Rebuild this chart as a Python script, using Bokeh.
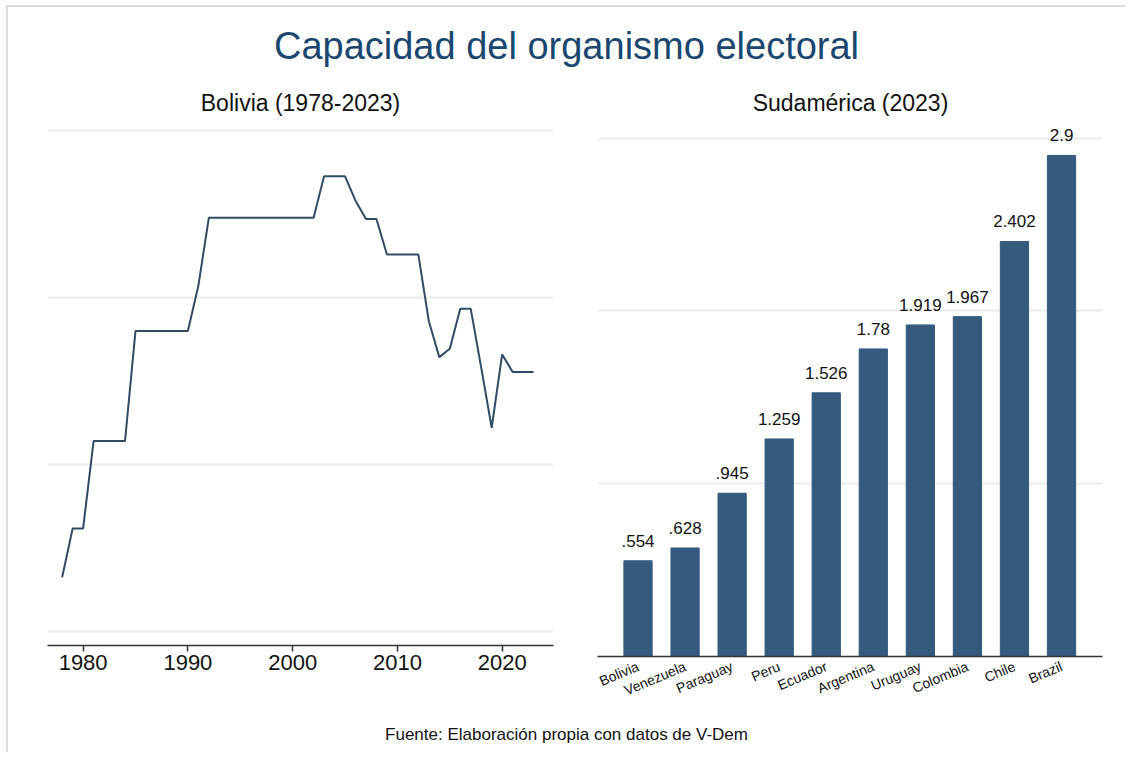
from bokeh.plotting import figure
from bokeh.layouts import column, row
from bokeh.models import Range1d, FixedTicker, Label, ColumnDataSource
from bokeh.embed import file_html
from bokeh.resources import INLINE
from bokeh.core.properties import value

# ---------------- data ----------------
title_text = "Capacidad del organismo electoral"
left_title = "Bolivia (1978-2023)"
right_title = "Sudamérica (2023)"
source_text = "Fuente: Elaboración propia con datos de V-Dem"

years = list(range(1978, 2024))
bolivia = [
    -0.675, -0.383, -0.383, 0.14, 0.14, 0.14, 0.14,          # 1978-1984
    0.80, 0.80, 0.80, 0.80, 0.80, 0.80,                      # 1985-1990
    1.07,                                                    # 1991
    1.477, 1.477, 1.477, 1.477, 1.477, 1.477, 1.477, 1.477,  # 1992-1999
    1.477, 1.477, 1.477,                                     # 2000-2002
    1.726, 1.726, 1.726,                                     # 2003-2005
    1.58, 1.47, 1.47,                                        # 2006-2008
    1.257, 1.257, 1.257, 1.257,                              # 2009-2012
    0.858, 0.643, 0.693, 0.932, 0.932,                       # 2013-2017
    0.58, 0.22, 0.659,                                       # 2018-2020
    0.554, 0.554, 0.554,                                     # 2021-2023
]
year_ticks = [1980, 1990, 2000, 2010, 2020]
left_grid = [-1, 0, 1, 2]

countries = ["Bolivia", "Venezuela", "Paraguay", "Peru", "Ecuador",
             "Argentina", "Uruguay", "Colombia", "Chile", "Brazil"]
capacity_2023 = [0.554, 0.628, 0.945, 1.259, 1.526, 1.78, 1.919, 1.967, 2.402, 2.9]
right_grid = [1, 2, 3]

FONT = "Liberation Sans"
NAVY = "#1a476f"
LINE_COLOR = "#2f4b66"
BAR_COLOR = "#345a7e"
GRID_COLOR = "#ececec"
AXIS_COLOR = "#333333"

# ---------------- header ----------------
head = figure(width=1117, height=112, x_range=Range1d(0, 1117), y_range=Range1d(112, 0),
              x_axis_location=None, y_axis_location=None, output_backend="svg",
              toolbar_location=None, min_border=0, outline_line_color=None)
head.grid.visible = False
head.add_layout(Label(x=558, y=38, text=title_text, text_align="center", text_baseline="middle",
                      text_font=FONT, text_font_size="38px", text_color=NAVY))
head.add_layout(Label(x=292, y=95, text=left_title, text_align="center", text_baseline="middle",
                      text_font=FONT, text_font_size="23px", text_color="#111111"))
head.add_layout(Label(x=842, y=95, text=right_title, text_align="center", text_baseline="middle",
                      text_font=FONT, text_font_size="23px", text_color="#111111"))

# ---------------- left panel: line ----------------
left = figure(width=567, height=581, x_range=Range1d(1976.6, 2024.9), y_range=Range1d(-1.084, 2.066),
              y_axis_location=None, output_backend="svg", toolbar_location=None,
              min_border_left=39, min_border_right=22, min_border_top=0, min_border_bottom=55,
              outline_line_color=None)
left.line(years, bolivia, line_color=LINE_COLOR, line_width=2)
left.xaxis.ticker = FixedTicker(ticks=year_ticks)
left.xaxis.major_tick_out = 6
left.xaxis.major_tick_in = 0
left.xaxis.minor_tick_out = 0
left.xaxis.minor_tick_in = 0
left.xaxis.axis_line_color = AXIS_COLOR
left.xaxis.axis_line_width = 1.5
left.xaxis.major_tick_line_color = AXIS_COLOR
left.xaxis.major_tick_line_width = 1.5
left.xaxis.major_label_text_font = FONT
left.xaxis.major_label_text_font_size = "22px"
left.xaxis.major_label_text_color = "#111111"
left.xaxis.major_label_standoff = 3
left.xgrid.visible = False
left.ygrid.ticker = FixedTicker(ticks=left_grid)
left.ygrid.grid_line_color = GRID_COLOR
left.ygrid.grid_line_width = 2

# ---------------- right panel: bars ----------------
idx = list(range(len(countries)))
labels = [("%g" % v).lstrip("0") for v in capacity_2023]
src = ColumnDataSource(dict(x=idx, top=capacity_2023, label=labels))

right = figure(width=550, height=592, x_range=Range1d(-0.861, 9.871), y_range=Range1d(0, 3.108),
               y_axis_location=None, output_backend="svg", toolbar_location=None,
               min_border_left=22, min_border_right=23, min_border_top=0, min_border_bottom=55,
               outline_line_color=None)
right.vbar(x="x", top="top", width=0.6, source=src, fill_color=BAR_COLOR, line_color=BAR_COLOR)
right.text(x="x", y="top", text="label", source=src, text_align="center", text_baseline="bottom",
           y_offset=-14, text_font=value(FONT), text_font_size="17px", text_color="#111111")
right.xaxis.ticker = FixedTicker(ticks=idx)
right.xaxis.major_label_overrides = {i: c for i, c in enumerate(countries)}
right.xaxis.major_label_orientation = 0.4
right.xaxis.major_tick_out = 0
right.xaxis.major_tick_in = 0
right.xaxis.minor_tick_out = 0
right.xaxis.minor_tick_in = 0
right.xaxis.axis_line_color = AXIS_COLOR
right.xaxis.axis_line_width = 1.5
right.xaxis.major_label_text_font = FONT
right.xaxis.major_label_text_font_size = "14px"
right.xaxis.major_label_text_color = "#111111"
right.xaxis.major_label_standoff = 9
right.xgrid.visible = False
right.ygrid.ticker = FixedTicker(ticks=right_grid)
right.ygrid.grid_line_color = GRID_COLOR
right.ygrid.grid_line_width = 2

# ---------------- footer ----------------
foot = figure(width=1117, height=41, x_range=Range1d(0, 1117), y_range=Range1d(41, 0),
              x_axis_location=None, y_axis_location=None, output_backend="svg",
              toolbar_location=None, min_border=0, outline_line_color=None)
foot.grid.visible = False
foot.add_layout(Label(x=558, y=23, text=source_text, text_align="center", text_baseline="middle",
                      text_font=FONT, text_font_size="17px", text_color="#111111"))

layout = column(head, row(left, right), foot,
                styles={"border-top": "2px solid #dcdcdc", "border-left": "2px solid #dcdcdc",
                        "margin-top": "5px", "margin-left": "6px"})

with open("out.html", "w") as f:
    f.write(file_html(layout, INLINE))
